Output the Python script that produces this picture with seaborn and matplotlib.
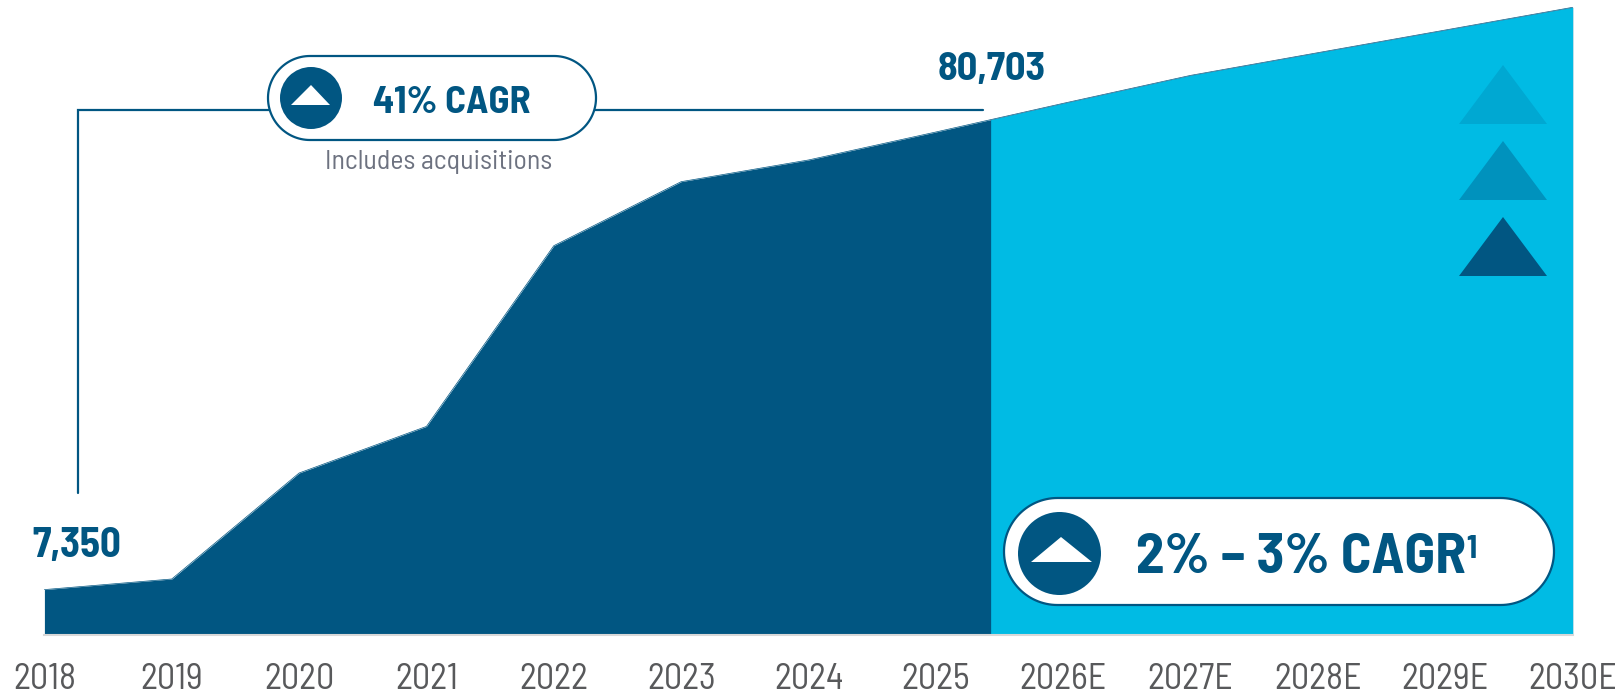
import numpy as np
import pandas as pd
import seaborn as sns
import matplotlib.pyplot as plt
from matplotlib.patches import Circle, Polygon

years = ['2018', '2019', '2020', '2021', '2022', '2023', '2024', '2025',
         '2026E', '2027E', '2028E', '2029E', '2030E']
values = [7350, 9050, 26040, 33510, 62480, 72740, 76220, 80703,
          85300, 89780, 93420, 97050, 100690]
first_label = 7350
last_label = 80703
cagr_past = '41% CAGR'
cagr_note = 'Includes acquisitions'
cagr_future = '2% – 3% CAGR'
split_at = 7.43  # where dark changes to light, between 2025 and 2026E

DARK = '#015682'
LIGHT = '#00BBE4'
TICK = '#58595B'
NOTE = '#6D7280'

sns.set_theme(style='white')
plt.rcParams['font.family'] = ['Barlow Semi Condensed', 'Roboto', 'DejaVu Sans']

df = pd.DataFrame({'year': years, 'value': values})

fig = plt.figure(figsize=(16.19, 6.94), dpi=100)
ax = fig.add_axes([0, 59 / 694, 1, 635 / 694])

pos = np.arange(len(years))
ax.fill_between(pos, values, -1000, color=DARK, linewidth=0, zorder=1)
x_light = np.r_[split_at, pos[pos > split_at]]
y_light = np.interp(x_light, pos, values)
ax.fill_between(x_light, y_light, -1000, color=LIGHT, linewidth=0, zorder=2)
sns.lineplot(data=df, x='year', y='value', sort=False, errorbar=None,
             color=DARK, linewidth=0.5, zorder=3, ax=ax)

ax.set_xlim(-0.3487, 12.364)
ax.set_ylim(72, 101862)
ax.set_xlabel('')
ax.set_ylabel('')
ax.set_yticks([])
ax.tick_params(axis='x', length=0, pad=20, labelsize=26, labelcolor=TICK)
for s in ['top', 'left', 'right']:
    ax.spines[s].set_visible(False)
ax.spines['bottom'].set_color('#D8D8D8')
ax.spines['bottom'].set_linewidth(1.5)
ax.spines['bottom'].set_bounds(0, 12)

# overlay in pixels for the callouts
ov = fig.add_axes([0, 0, 1, 1])
ov.set_xlim(0, 1619)
ov.set_ylim(694, 0)
ov.axis('off')
ov.patch.set_alpha(0)

ov.plot([77.5, 77.5, 983], [493, 110, 110], color=DARK, linewidth=1.6,
        solid_joinstyle='miter', zorder=1)


def pill(x0, x1, y0, y1, cx, cy, r, tri):
    rad = (y1 - y0) / 2
    t = np.linspace(-np.pi / 2, np.pi / 2, 60)
    xs = np.r_[x1 - rad + rad * np.cos(t), x0 + rad - rad * np.cos(t)[::-1]]
    ys = np.r_[y0 + rad + rad * np.sin(t), y0 + rad - rad * np.sin(t)]
    ov.add_patch(Polygon(np.c_[xs, ys], closed=True, facecolor='white',
                         edgecolor=DARK, linewidth=1.6, zorder=2))
    ov.add_patch(Circle((cx, cy), r, color=DARK, linewidth=0, zorder=3))
    ov.add_patch(Polygon(tri, closed=True, color='white', linewidth=0, zorder=4))


pill(268, 596, 56, 140, 311, 98, 31, [(291, 105), (330, 105), (311, 85)])
pill(1004, 1554, 498, 605, 1059.5, 553.5, 41.5, [(1031, 562), (1092, 562), (1061, 537)])

ov.text(452, 113, cagr_past, color=DARK, fontsize=28, fontweight='bold',
        ha='center', va='baseline', zorder=5)
ov.text(439, 169, cagr_note, color=NOTE, fontsize=20, ha='center', va='baseline')
ov.text(1136, 573, cagr_future, color=DARK, fontsize=41, fontweight='bold',
        ha='left', va='baseline', zorder=5)
ov.text(1466, 558, '1', color=DARK, fontsize=23, fontweight='bold',
        ha='left', va='baseline', zorder=5)
ov.text(77, 557, f'{first_label:,}', color=DARK, fontsize=29.5, fontweight='bold',
        ha='center', va='baseline')
ov.text(992, 80, f'{last_label:,}', color=DARK, fontsize=29, fontweight='bold',
        ha='center', va='baseline')

# stacked arrows in the forecast area
for top, c in zip([65, 141, 217], ['#00A8D2', '#0092BD', DARK]):
    ov.add_patch(Polygon([(1459, top + 59), (1547, top + 59), (1503, top)],
                         closed=True, color=c, linewidth=0, zorder=5))

plt.savefig('out.png', dpi=100)
plt.close()
